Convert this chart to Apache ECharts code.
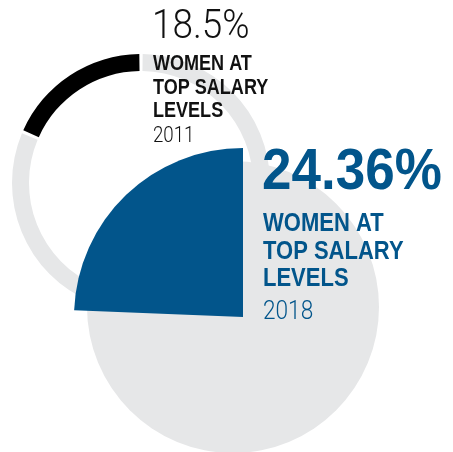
<!DOCTYPE html>
<html lang="en">
<head>
    <meta charset="UTF-8">
    <title>Women at top salary levels</title>
    <script src="https://cdn.jsdelivr.net/npm/echarts@6/dist/echarts.min.js"></script>
    <style>
        html, body { margin: 0; padding: 0; background: #fff; }
        #main { width: 453px; height: 452px; }
    </style>
</head>
<body>
<div id="main"></div>

<script>
    // data
    var years = ['2011', '2018'];
    var womenShare = [18.5, 24.36];          // % of women at top salary levels
    var labelLines = ['WOMEN AT', 'TOP SALARY', 'LEVELS'];

    var BOLD = '"Liberation Sans", Arial, sans-serif';
    var LIGHT = 'Roboto, "Liberation Sans", sans-serif';
    var BLUE = '#02558b';
    var GREY = '#e6e7e8';

    var myChart = echarts.init(document.getElementById('main'));

    // condensed look: squeeze the text horizontally
    function txt(x, y, text, font, color, sx) {
        return {
            type: 'text',
            z: 100,
            x: x, y: y,
            scaleX: sx,
            style: {
                x: 0, y: 0, text: text, font: font,
                fill: color, verticalAlign: 'middle'
            }
        };
    }

    var blackBlock = [txt(152, 28, womenShare[0] + '%', '300 41px ' + LIGHT, '#111', 0.9)];
    var blueBlock = [txt(262, 173, womenShare[1] + '%', 'bold 57px ' + BOLD, BLUE, 0.93)];
    labelLines.forEach(function (line, i) {
        blackBlock.push(txt(153, 64 + i * 23.7, line, 'bold 22px ' + BOLD, '#111', 0.82));
        blueBlock.push(txt(263, 224 + i * 27.8, line, 'bold 25px ' + BOLD, BLUE, 0.88));
    });
    blackBlock.push(txt(153, 136, years[0], '300 22px ' + LIGHT, '#111', 0.85));
    blueBlock.push(txt(263, 312, years[1], '300 26px ' + LIGHT, BLUE, 0.87));

    var option = {
        animation: false,
        series: [
            {   // 2011 ring
                type: 'pie',
                silent: true,
                center: [141, 183],
                radius: [112, 129],
                startAngle: 90,
                clockwise: false,
                padAngle: 1.5,
                label: { show: false },
                labelLine: { show: false },
                data: [
                    { value: womenShare[0], itemStyle: { color: '#000' } },
                    { value: 100 - womenShare[0], itemStyle: { color: GREY } }
                ]
            },
            {   // 2018 background disc
                type: 'pie',
                silent: true,
                center: [233, 307],
                radius: [0, 146],
                label: { show: false },
                labelLine: { show: false },
                data: [{ value: 100, itemStyle: { color: GREY } }]
            },
            {   // 2018 share sector
                type: 'pie',
                silent: true,
                center: [243, 317],
                radius: [0, 169],
                startAngle: 90,
                clockwise: false,
                label: { show: false },
                labelLine: { show: false },
                data: [
                    { value: womenShare[1], itemStyle: { color: BLUE } },
                    { value: 100 - womenShare[1], itemStyle: { color: 'rgba(0,0,0,0)' } }
                ]
            }
        ],
        graphic: blackBlock.concat(blueBlock)
    };

    myChart.setOption(option);
</script>
</body>
</html>
